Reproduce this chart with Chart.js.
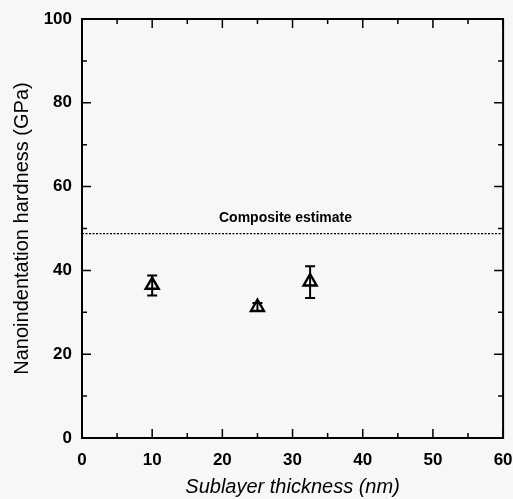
<!DOCTYPE html>
<html>
<head>
<meta charset="utf-8">
<script src="https://cdn.jsdelivr.net/npm/chart.js@4/dist/chart.umd.min.js"></script>
<style>
	html, body { margin: 0; padding: 0; background: #f6f7f6; }
	#wrap { width: 513px; height: 499px; }
</style>
</head>
<body>
<div id="wrap"><canvas id="diagram"></canvas></div>
<script>
// sublayer thickness (nm) and hardness (GPa)
const thickness = [10, 25, 32.5];
const hardness = [36.5, 31.2, 37.3];
const errLow = [34.0, 30.3, 33.4];
const errHigh = [38.8, 32.2, 41.0];

const compositeX = [0, 60];
const compositeY = [48.8, 48.8];
const compositeLabel = 'Composite estimate';
const compositeLabelX = 29;

const xTicks = [0, 10, 20, 30, 40, 50, 60];
const xMinor = [5, 15, 25, 35, 45, 55];
const yTicks = [0, 20, 40, 60, 80, 100];
const yMinor = [10, 30, 50, 70, 90];

const ink = '#000';
const fontFamily = '"Liberation Sans", Arial, sans-serif';

const frame = {
	id: 'frame',
	afterDatasetsDraw(chart) {
		const ctx = chart.ctx;
		const a = chart.chartArea;
		const xs = chart.scales.x;
		const ys = chart.scales.y;

		ctx.save();
		ctx.strokeStyle = ink;
		ctx.lineWidth = 2;
		ctx.strokeRect(a.left, a.top, a.right - a.left, a.bottom - a.top);

		// inward ticks on all sides
		ctx.lineWidth = 1.5;
		ctx.beginPath();
		xTicks.concat(xMinor).forEach(v => {
			const len = xTicks.includes(v) ? 9 : 5;
			const px = xs.getPixelForValue(v);
			ctx.moveTo(px, a.bottom); ctx.lineTo(px, a.bottom - len);
			ctx.moveTo(px, a.top); ctx.lineTo(px, a.top + len);
		});
		yTicks.concat(yMinor).forEach(v => {
			const len = yTicks.includes(v) ? 9 : 5;
			const py = ys.getPixelForValue(v);
			ctx.moveTo(a.left, py); ctx.lineTo(a.left + len, py);
			ctx.moveTo(a.right, py); ctx.lineTo(a.right - len, py);
		});
		ctx.stroke();

		// error bars
		ctx.lineWidth = 2;
		ctx.beginPath();
		thickness.forEach((t, i) => {
			const px = xs.getPixelForValue(t);
			const lo = ys.getPixelForValue(errLow[i]);
			const hi = ys.getPixelForValue(errHigh[i]);
			ctx.moveTo(px, lo); ctx.lineTo(px, hi);
			ctx.moveTo(px - 5, lo); ctx.lineTo(px + 5, lo);
			ctx.moveTo(px - 5, hi); ctx.lineTo(px + 5, hi);
		});
		ctx.stroke();

		// label of the composite line
		ctx.fillStyle = ink;
		ctx.font = 'bold 14px ' + fontFamily;
		ctx.textAlign = 'center';
		ctx.textBaseline = 'bottom';
		ctx.fillText(compositeLabel, xs.getPixelForValue(compositeLabelX), ys.getPixelForValue(compositeY[0]) - 8);
		ctx.restore();
	}
};

const bg = {
	id: 'bg',
	beforeDraw(chart) {
		const ctx = chart.ctx;
		ctx.save();
		ctx.fillStyle = '#f6f7f6';
		ctx.fillRect(0, 0, chart.width, chart.height);
		ctx.restore();
	}
};

new Chart(document.getElementById('diagram'), {
	type: 'scatter',
	data: {
		datasets: [{
			label: 'hardness',
			data: thickness.map((t, i) => ({ x: t, y: hardness[i] })),
			pointStyle: 'triangle',
			pointRadius: 7.5,
			borderColor: ink,
			backgroundColor: 'rgba(0, 0, 0, 0)',
			pointBorderWidth: 2.4,
			showLine: false
		}, {
			label: compositeLabel,
			data: compositeX.map((x, i) => ({ x: x, y: compositeY[i] })),
			showLine: true,
			borderColor: ink,
			borderWidth: 1.2,
			borderDash: [2, 1.5],
			pointRadius: 0
		}]
	},
	options: {
		responsive: true,
		maintainAspectRatio: false,
		animation: false,
		layout: { padding: { top: 19, right: 9, left: 10, bottom: 0 } },
		plugins: { legend: { display: false }, tooltip: { enabled: false } },
		scales: {
			x: {
				type: 'linear',
				min: 0,
				max: 60,
				afterBuildTicks: s => { s.ticks = xTicks.map(v => ({ value: v })); },
				afterFit: s => { s.height = 61; s.paddingLeft = 0; s.paddingRight = 0; },
				grid: { display: true, drawOnChartArea: false, drawTicks: false, color: 'rgba(0,0,0,0)' },
				border: { display: false },
				ticks: {
					color: ink,
					padding: 12,
					maxRotation: 0,
					font: { family: fontFamily, size: 17, weight: 'bold' }
				},
				title: {
					display: true,
					text: 'Sublayer thickness (nm)',
					color: ink,
					padding: { top: 6, bottom: 0 },
					font: { family: fontFamily, size: 20, style: 'italic' }
				}
			},
			y: {
				type: 'linear',
				min: 0,
				max: 100,
				afterBuildTicks: s => { s.ticks = yTicks.map(v => ({ value: v })); },
				afterFit: s => { s.width = 72; s.paddingTop = 0; s.paddingBottom = 0; },
				grid: { display: true, drawOnChartArea: false, drawTicks: false, color: 'rgba(0,0,0,0)' },
				border: { display: false },
				ticks: {
					color: ink,
					padding: 10,
					font: { family: fontFamily, size: 17, weight: 'bold' }
				},
				title: {
					display: true,
					text: 'Nanoindentation hardness (GPa)',
					color: ink,
					padding: { top: 0, bottom: 0 },
					font: { family: fontFamily, size: 20 }
				}
			}
		}
	},
	plugins: [bg, frame]
});
</script>
</body>
</html>
